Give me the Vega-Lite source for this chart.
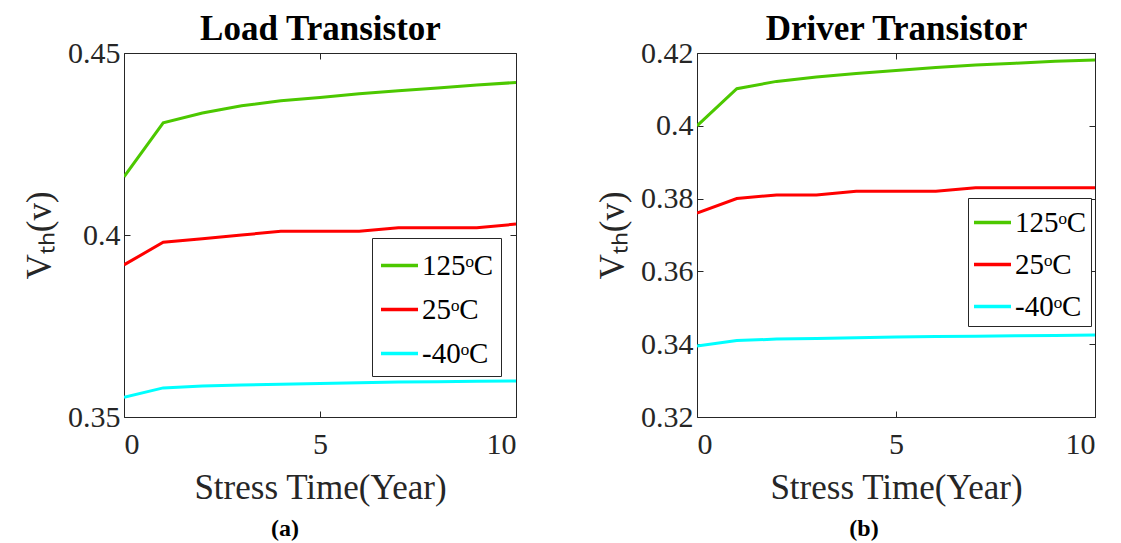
{
  "$schema": "https://vega.github.io/schema/vega-lite/v6.json",
  "background": "white",
  "padding": {"left": 22, "top": 11, "right": 5, "bottom": 5},
  "spacing": 78,
  "config": {
    "font": "Liberation Serif",
    "view": {"stroke": null},
    "style": {"guide-label": {"font": "Liberation Serif"}, "guide-title": {"font": "Liberation Serif"}},
    "axis": {
      "grid": false,
      "domainColor": "#262626",
      "domainWidth": 1,
      "tickColor": "#262626",
      "tickSize": -6,
      "labelColor": "#262626",
      "labelFont": "Liberation Serif",
      "labelFontSize": 30,
      "labelPadding": 10,
      "titleFont": "Liberation Serif",
      "titleFontSize": 35,
      "titleFontWeight": "normal",
      "titleColor": "#262626"
    },
    "legend": {
      "orient": "none",
      "title": null,
      "symbolType": "stroke",
      "symbolSize": 1369,
      "symbolStrokeWidth": 3.5,
      "labelFont": "Liberation Serif",
      "labelFontSize": 29,
      "labelColor": "black",
      "labelOffset": 2,
      "labelLimit": 300,
      "strokeColor": "#262626",
      "fillColor": "white",
      "padding": 7,
      "rowPadding": 8
    },
    "title": {"font": "Liberation Serif", "fontSize": 24, "fontWeight": "bold", "color": "black"}
  },
  "datasets": {
    "load": [
      {"year": 0, "temp": "125ᵒC", "vth": 0.416},
      {"year": 1, "temp": "125ᵒC", "vth": 0.4308},
      {"year": 2, "temp": "125ᵒC", "vth": 0.4335},
      {"year": 3, "temp": "125ᵒC", "vth": 0.4355},
      {"year": 4, "temp": "125ᵒC", "vth": 0.4369},
      {"year": 5, "temp": "125ᵒC", "vth": 0.4378},
      {"year": 6, "temp": "125ᵒC", "vth": 0.4388},
      {"year": 7, "temp": "125ᵒC", "vth": 0.4396},
      {"year": 8, "temp": "125ᵒC", "vth": 0.4404},
      {"year": 9, "temp": "125ᵒC", "vth": 0.4412},
      {"year": 10, "temp": "125ᵒC", "vth": 0.4419},
      {"year": 0, "temp": "25ᵒC", "vth": 0.3918},
      {"year": 1, "temp": "25ᵒC", "vth": 0.398},
      {"year": 2, "temp": "25ᵒC", "vth": 0.399},
      {"year": 3, "temp": "25ᵒC", "vth": 0.4},
      {"year": 4, "temp": "25ᵒC", "vth": 0.401},
      {"year": 5, "temp": "25ᵒC", "vth": 0.401},
      {"year": 6, "temp": "25ᵒC", "vth": 0.401},
      {"year": 7, "temp": "25ᵒC", "vth": 0.402},
      {"year": 8, "temp": "25ᵒC", "vth": 0.402},
      {"year": 9, "temp": "25ᵒC", "vth": 0.402},
      {"year": 10, "temp": "25ᵒC", "vth": 0.403},
      {"year": 0, "temp": "-40ᵒC", "vth": 0.3554},
      {"year": 1, "temp": "-40ᵒC", "vth": 0.358},
      {"year": 2, "temp": "-40ᵒC", "vth": 0.3585},
      {"year": 3, "temp": "-40ᵒC", "vth": 0.3588},
      {"year": 4, "temp": "-40ᵒC", "vth": 0.359},
      {"year": 5, "temp": "-40ᵒC", "vth": 0.3592},
      {"year": 6, "temp": "-40ᵒC", "vth": 0.3594},
      {"year": 7, "temp": "-40ᵒC", "vth": 0.3596},
      {"year": 8, "temp": "-40ᵒC", "vth": 0.3597},
      {"year": 9, "temp": "-40ᵒC", "vth": 0.3598},
      {"year": 10, "temp": "-40ᵒC", "vth": 0.3599}
    ],
    "driver": [
      {"year": 0, "temp": "125ᵒC", "vth": 0.4},
      {"year": 1, "temp": "125ᵒC", "vth": 0.4102},
      {"year": 2, "temp": "125ᵒC", "vth": 0.4122},
      {"year": 3, "temp": "125ᵒC", "vth": 0.4134},
      {"year": 4, "temp": "125ᵒC", "vth": 0.4144},
      {"year": 5, "temp": "125ᵒC", "vth": 0.4152},
      {"year": 6, "temp": "125ᵒC", "vth": 0.416},
      {"year": 7, "temp": "125ᵒC", "vth": 0.4167},
      {"year": 8, "temp": "125ᵒC", "vth": 0.4172},
      {"year": 9, "temp": "125ᵒC", "vth": 0.4177},
      {"year": 10, "temp": "125ᵒC", "vth": 0.4181},
      {"year": 0, "temp": "25ᵒC", "vth": 0.376},
      {"year": 1, "temp": "25ᵒC", "vth": 0.38},
      {"year": 2, "temp": "25ᵒC", "vth": 0.381},
      {"year": 3, "temp": "25ᵒC", "vth": 0.381},
      {"year": 4, "temp": "25ᵒC", "vth": 0.382},
      {"year": 5, "temp": "25ᵒC", "vth": 0.382},
      {"year": 6, "temp": "25ᵒC", "vth": 0.382},
      {"year": 7, "temp": "25ᵒC", "vth": 0.383},
      {"year": 8, "temp": "25ᵒC", "vth": 0.383},
      {"year": 9, "temp": "25ᵒC", "vth": 0.383},
      {"year": 10, "temp": "25ᵒC", "vth": 0.383},
      {"year": 0, "temp": "-40ᵒC", "vth": 0.3395},
      {"year": 1, "temp": "-40ᵒC", "vth": 0.341},
      {"year": 2, "temp": "-40ᵒC", "vth": 0.3414},
      {"year": 3, "temp": "-40ᵒC", "vth": 0.3416},
      {"year": 4, "temp": "-40ᵒC", "vth": 0.3418},
      {"year": 5, "temp": "-40ᵒC", "vth": 0.342},
      {"year": 6, "temp": "-40ᵒC", "vth": 0.3421},
      {"year": 7, "temp": "-40ᵒC", "vth": 0.3422},
      {"year": 8, "temp": "-40ᵒC", "vth": 0.3423},
      {"year": 9, "temp": "-40ᵒC", "vth": 0.3424},
      {"year": 10, "temp": "-40ᵒC", "vth": 0.3425}
    ]
  },
  "resolve": {"scale": {"color": "independent"}, "legend": {"color": "independent"}},
  "hconcat": [
    {
      "width": 392,
      "height": 364,
      "data": {"name": "load"},
      "title": {"text": "(a)", "orient": "bottom", "dx": -35, "offset": 12},
      "layer": [
        {
          "mark": {"type": "line", "strokeWidth": 3, "clip": true},
          "encoding": {
            "x": {"field": "year", "type": "quantitative", "scale": {"domain": [0, 10], "nice": false},
                  "axis": {"orient": "bottom", "values": [0, 5, 10], "title": "Stress Time(Year)", "titlePadding": 11, "labelPadding": 18, "labelFont": "Liberation Serif"}},
            "y": {"field": "vth", "type": "quantitative", "scale": {"domain": [0.35, 0.45], "zero": false, "nice": false},
                  "axis": {"orient": "left", "values": [0.35, 0.4, 0.45], "format": "~g", "title": "Vₜₕ(v)", "titlePadding": 10, "labelFont": "Liberation Serif"}},
            "color": {"field": "temp", "type": "nominal",
                      "scale": {"domain": ["125ᵒC", "25ᵒC", "-40ᵒC"], "range": ["#4CC800", "#FF0000", "#00FFFF"]},
                      "legend": {"orient": "none", "legendX": 248, "legendY": 185}}
          }
        },
        {
          "mark": {"type": "line", "opacity": 0},
          "encoding": {
            "x": {"field": "year", "type": "quantitative",
                  "axis": {"orient": "top", "values": [0, 5, 10], "labels": false, "title": "Load Transistor", "titleFontWeight": "bold", "titleColor": "black", "titlePadding": 6}},
            "y": {"field": "vth", "type": "quantitative",
                  "axis": {"orient": "right", "values": [0.35, 0.4, 0.45], "labels": false, "title": null}},
            "detail": {"field": "temp"}
          }
        }
      ],
      "resolve": {"axis": {"x": "independent", "y": "independent"}}
    },
    {
      "width": 398,
      "height": 364,
      "data": {"name": "driver"},
      "title": {"text": "(b)", "orient": "bottom", "dx": -32, "offset": 12},
      "layer": [
        {
          "mark": {"type": "line", "strokeWidth": 3, "clip": true},
          "encoding": {
            "x": {"field": "year", "type": "quantitative", "scale": {"domain": [0, 10], "nice": false},
                  "axis": {"orient": "bottom", "values": [0, 5, 10], "title": "Stress Time(Year)", "titlePadding": 11, "labelPadding": 18, "labelFont": "Liberation Serif"}},
            "y": {"field": "vth", "type": "quantitative", "scale": {"domain": [0.32, 0.42], "zero": false, "nice": false},
                  "axis": {"orient": "left", "values": [0.32, 0.34, 0.36, 0.38, 0.4, 0.42], "format": "~g", "title": "Vₜₕ(v)", "titlePadding": 10, "labelFont": "Liberation Serif"}},
            "color": {"field": "temp", "type": "nominal",
                      "scale": {"domain": ["125ᵒC", "25ᵒC", "-40ᵒC"], "range": ["#4CC800", "#FF0000", "#00FFFF"]},
                      "legend": {"orient": "none", "legendX": 271, "legendY": 145, "padding": 4, "rowPadding": 6}}
          }
        },
        {
          "mark": {"type": "line", "opacity": 0},
          "encoding": {
            "x": {"field": "year", "type": "quantitative",
                  "axis": {"orient": "top", "values": [0, 5, 10], "labels": false, "title": "Driver Transistor", "titleFontWeight": "bold", "titleColor": "black", "titlePadding": 6}},
            "y": {"field": "vth", "type": "quantitative",
                  "axis": {"orient": "right", "values": [0.32, 0.34, 0.36, 0.38, 0.4, 0.42], "labels": false, "title": null}},
            "detail": {"field": "temp"}
          }
        }
      ],
      "resolve": {"axis": {"x": "independent", "y": "independent"}}
    }
  ]
}
